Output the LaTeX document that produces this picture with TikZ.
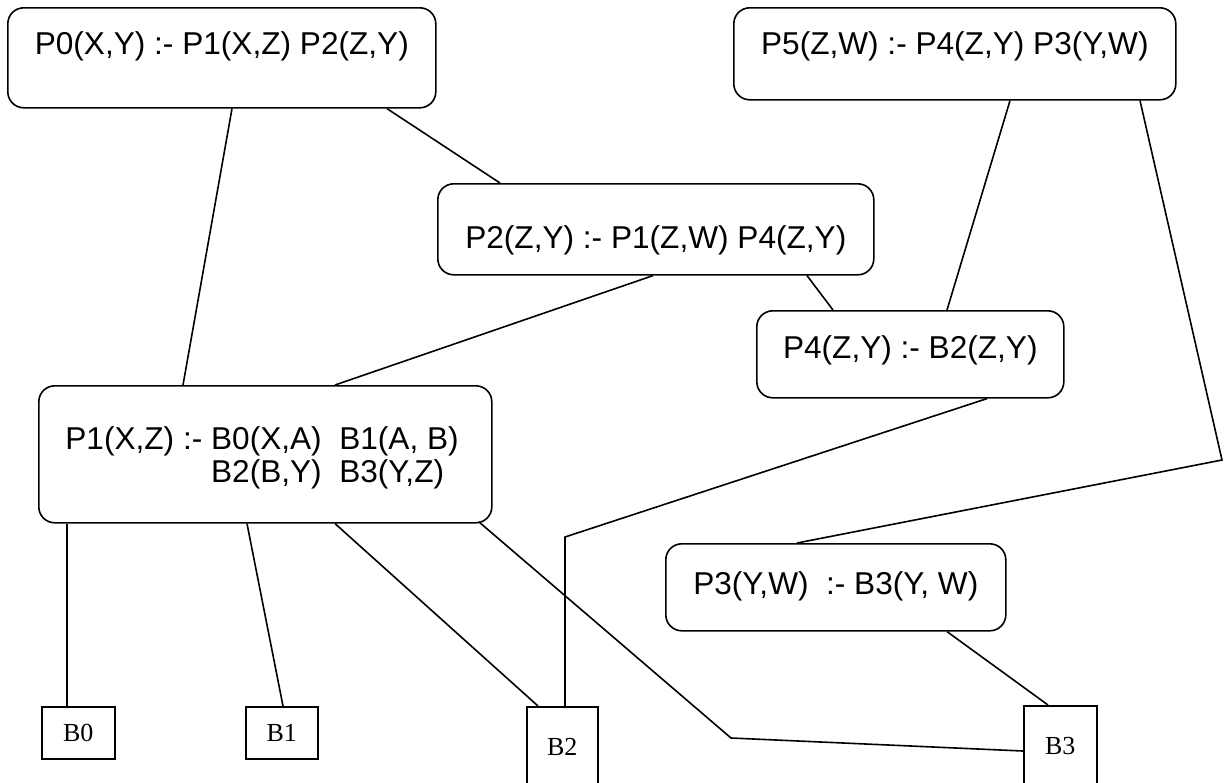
\documentclass[tikz,border=0pt]{standalone}
\usepackage{fontspec}
\setmainfont{Liberation Serif}
\newfontfamily\regolafont{Liberation Sans}
\usetikzlibrary{calc}

\tikzset{
  regola/.style={draw, line width=0.8pt, rounded corners=8pt, inner sep=0pt,
    anchor=north west, font=\regolafont\fontsize{15.8}{19}\selectfont},
  atomo/.style={draw, line width=0.8pt, inner sep=0pt, anchor=north west,
    font=\fontsize{13}{15}\selectfont},
  arco/.style={line width=0.8pt}
}

\begin{document}
\begin{tikzpicture}[x=0.5pt,y=-0.5pt]
    \fill[white] (0,0) rectangle (1225,782);
    \useasboundingbox (0,0) rectangle (1225,782);

    % Regole
    \node[regola, minimum width=214pt, text height=23.5pt, text depth=26.5pt] (P0) at (7,7)
        {P0(X,Y) :- P1(X,Z) P2(Z,Y)};
    \node[regola, minimum width=221pt, text height=23.5pt, text depth=22.5pt] (P5) at (733,7)
        {P5(Z,W) :- P4(Z,Y) P3(Y,W)};
    \node[regola, minimum width=218pt, text height=32.5pt, text depth=13pt] (P2) at (437,183)
        {P2(Z,Y) :- P1(Z,W) P4(Z,Y)};
    \node[regola, minimum width=153.5pt, text height=24pt, text depth=19.5pt] (P4) at (756,310)
        {P4(Z,Y) :- B2(Z,Y)};
    \node[regola, minimum width=170pt, text height=25.5pt, text depth=18pt] (P3) at (665,543)
        {P3(Y,W)\ \ :- B3(Y, W)};
    \node[regola, minimum width=226.5pt, minimum height=68.5pt] (P1) at (38,385) {};
    \node[anchor=base west, inner sep=0pt, font=\regolafont\fontsize{15.8}{19}\selectfont] (P1a) at (65,449)
        {P1(X,Z) :- B0(X,A)\ \ B1(A, B)};
    \node[anchor=base west, inner sep=0pt, font=\regolafont\fontsize{15.8}{19}\selectfont] (P1b) at (65,482)
        {\phantom{P1(X,Z) :-\ }B2(B,Y)\ \ B3(Y,Z)};

    % Fatti di base
    \node[atomo, minimum width=36.5pt, minimum height=26pt] (B0) at (41,706) {B0};
    \node[atomo, minimum width=36pt, minimum height=26pt] (B1) at (245,706) {B1};
    \node[atomo, minimum width=35.5pt, minimum height=40pt] (B2) at (526,706) {B2};
    \node[atomo, minimum width=36.5pt, minimum height=40pt] (B3) at (1023,705) {B3};

    % Gomiti
    \coordinate (g1) at (1222,460);
    \coordinate (g2) at (565,537);
    \coordinate (g3) at (731,738);

    % Archi tra le regole
    \draw[arco] ($(P0.south west)+(225,0)$) -- ($(P1.north west)+(145,0)$);
    \draw[arco] ($(P0.south west)+(380,0)$) -- ($(P2.north west)+(63,0)$);
    \draw[arco] ($(P2.south west)+(216,0)$) -- ($(P1.north west)+(297,0)$);
    \draw[arco] ($(P2.south west)+(370,0)$) -- ($(P4.north west)+(77,0)$);
    \draw[arco] ($(P5.south west)+(277,0)$) -- ($(P4.north west)+(191,0)$);
    \draw[arco] ($(P5.south west)+(407,0)$) -- (g1) -- ($(P3.north west)+(132,0)$);

    % Archi verso i fatti
    \draw[arco] ($(P1.south west)+(29,0)$) -- ($(B0.north west)+(26,0)$);
    \draw[arco] ($(P1.south west)+(209,0)$) -- ($(B1.north west)+(38,0)$);
    \draw[arco] ($(P1.south west)+(297,0)$) -- ($(B2.north west)+(12,0)$);
    \draw[arco] ($(P1.south east)+(-14,-2)$) -- (g3) -- ($(B3.north west)+(0,46)$);
    \draw[arco] ($(P4.south west)+(231,0)$) -- (g2) -- ($(B2.north west)+(39,0)$);
    \draw[arco] ($(P3.south west)+(282,0)$) -- ($(B3.north west)+(25,0)$);
\end{tikzpicture}
\end{document}
